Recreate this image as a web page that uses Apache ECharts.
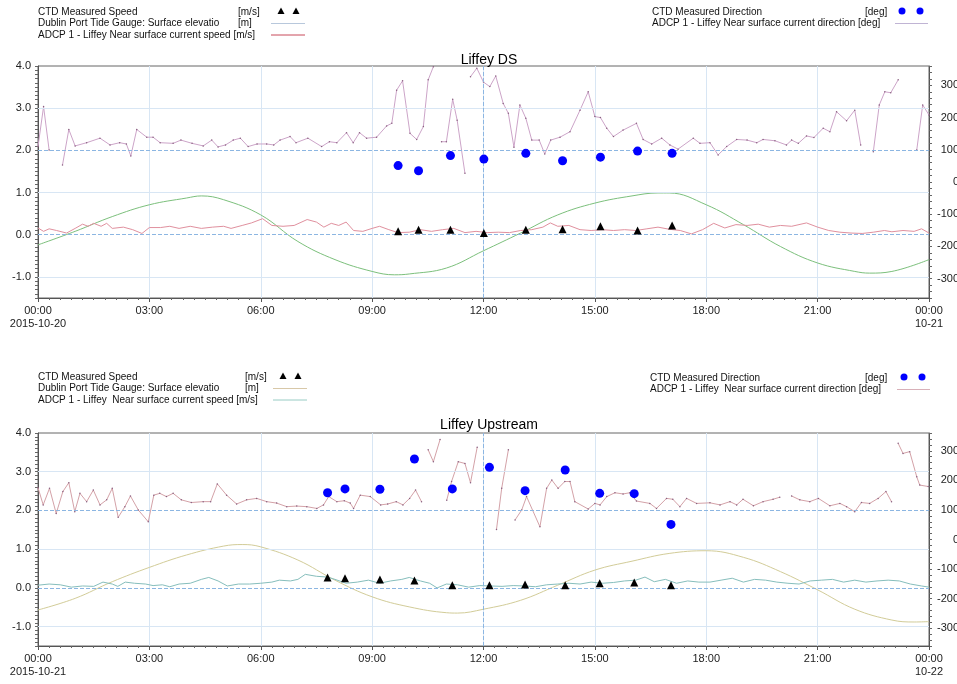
<!DOCTYPE html>
<html>
<head>
<meta charset="utf-8">
<script src="https://cdn.jsdelivr.net/npm/echarts@6/dist/echarts.min.js"></script>
<style>
html, body { margin: 0; padding: 0; background: #fff; }
#chart { width: 957px; height: 684px; }
</style>
</head>
<body>
<div id="chart"></div>
<script>
// hours after midnight

// Liffey DS, 2015-10-20
var dsTideHours = [0, 1, 2, 3, 4, 4.4, 5, 6, 7, 8, 9, 9.6, 10, 11, 12, 13, 14, 15, 16, 16.7, 17, 18, 19, 20, 21, 22, 22.4, 23, 24];
var dsTide = [-0.24, 0.08, 0.43, 0.71, 0.87, 0.92, 0.83, 0.47, -0.16, -0.59, -0.87, -0.95, -0.93, -0.79, -0.38, 0.04, 0.47, 0.75, 0.92, 0.99, 0.99, 0.71, 0.24, -0.28, -0.67, -0.87, -0.91, -0.87, -0.59];

var dsSpeedHours = [0, 0.15, 0.3, 0.5, 0.77, 1.0, 1.2, 1.35, 1.5, 1.7, 1.85, 2.0, 2.3, 2.55, 2.8, 3.0, 3.3, 3.55, 3.8, 4.1, 4.4, 4.7, 5.0, 5.2, 5.5, 5.75, 6.05, 6.3, 6.6, 6.9, 7.25, 7.5, 7.7, 7.9, 8.1, 8.3, 8.5, 8.75, 9.0, 9.2, 9.45, 9.7, 10.0, 10.3, 10.6, 10.9, 11.2, 11.5, 11.8, 12.1, 12.4, 12.7, 13.0, 13.3, 13.6, 13.8, 14.0, 14.3, 14.6, 14.9, 15.2, 15.5, 15.8, 16.1, 16.4, 16.7, 17.0, 17.3, 17.6, 17.9, 18.2, 18.5, 18.8, 19.1, 19.4, 19.7, 20.0, 20.3, 20.7, 21.0, 21.3, 21.6, 21.9, 22.2, 22.5, 22.8, 23.0, 23.3, 23.6, 23.8, 24.0];
var dsSpeed = [0.16, 0.08, 0.14, 0.10, 0.04, 0.15, 0.25, 0.20, 0.27, 0.20, 0.27, 0.15, 0.18, 0.12, 0.03, 0.17, 0.17, 0.20, 0.15, 0.20, 0.15, 0.18, 0.20, 0.15, 0.22, 0.28, 0.38, 0.22, 0.20, 0.22, 0.36, 0.30, 0.18, 0.27, 0.22, 0.30, 0.10, 0.08, 0.15, 0.20, 0.12, 0.05, 0.06, 0.12, 0.08, 0.12, 0.15, 0.05, 0.08, 0.05, 0.06, 0.05, 0.10, 0.12, 0.18, 0.28, 0.20, 0.22, 0.12, 0.10, 0.12, 0.10, 0.12, 0.10, 0.14, 0.18, 0.13, 0.10, 0.02, 0.12, 0.27, 0.16, 0.24, 0.22, 0.25, 0.18, 0.22, 0.20, 0.28, 0.18, 0.10, 0.06, 0.04, 0.03, 0.06, 0.10, 0.07, 0.10, 0.08, 0.14, 0.04];

var dsDirHours = [0, 0.15, 0.3, 0.45, 0.66, 0.83, 1.0, 1.31, 1.67, 1.94, 2.2, 2.38, 2.5, 2.66, 2.93, 3.1, 3.29, 3.64, 3.85, 4.15, 4.45, 4.68, 4.85, 5.05, 5.26, 5.45, 5.66, 5.9, 6.16, 6.35, 6.52, 6.79, 6.95, 7.27, 7.64, 7.85, 8.05, 8.31, 8.49, 8.66, 8.85, 9.12, 9.39, 9.53, 9.66, 9.82, 10.02, 10.2, 10.38, 10.51, 10.65, 10.75, 10.87, 11.0, 11.17, 11.29, 11.5, 11.58, 11.65, 11.82, 12.0, 12.17, 12.33, 12.53, 12.67, 12.82, 12.98, 13.14, 13.3, 13.5, 13.65, 13.81, 14.06, 14.33, 14.6, 14.82, 15.0, 15.15, 15.32, 15.5, 15.76, 16.12, 16.3, 16.53, 16.8, 17.02, 17.24, 17.65, 17.83, 18.1, 18.32, 18.55, 18.82, 19.1, 19.36, 19.53, 19.85, 20.16, 20.3, 20.48, 20.7, 20.9, 21.15, 21.33, 21.51, 21.78, 22.0, 22.16, 22.3, 22.5, 22.66, 22.81, 22.97, 23.17, 23.4, 23.67, 23.83, 24.0];
var dsDir = [110, 234, 99, null, 53, 163, 112, 122, 136, 115, 122, 118, 81, 163, 139, 139, 122, 120, 130, 120, 112, 130, 109, 115, 130, 136, 110, 118, 118, 115, 130, 141, 122, 136, 110, 125, 122, 153, 122, 153, 136, 139, 174, 182, 285, 314, 151, 132, 172, 317, 358, null, 125, 125, 257, 192, 27, null, 327, 353, 310, 296, 329, 244, 213, 108, 239, 198, 130, 130, 87, 130, 139, 156, 223, 280, 203, 200, 167, 141, 161, 182, 132, 118, 136, 115, 102, 136, 120, 122, 84, 110, 132, 130, 122, 132, 128, 115, 130, 120, 143, 138, 167, 156, 218, 190, 223, 115, null, 94, 239, 280, 277, 317, null, 99, 239, 208];

var dsCtdHours = [9.70, 10.25, 11.11, 12.01, 13.14, 14.13, 15.15, 16.15, 17.08];
var dsCtdSpeed = [0.08, 0.12, 0.12, 0.04, 0.12, 0.13, 0.20, 0.10, 0.22];
var dsCtdDir = [51, 35, 82, 71, 89, 66, 77, 96, 89];

// Liffey Upstream, 2015-10-21
var usTideHours = [0, 1, 2, 3, 4, 5, 5.5, 6, 7, 8, 9, 10, 11, 11.3, 12, 13, 14, 15, 16, 17, 18, 19, 20, 21, 22, 23, 23.6, 24];
var usTide = [-0.57, -0.27, 0.16, 0.53, 0.85, 1.08, 1.12, 1.06, 0.72, 0.20, -0.23, -0.49, -0.64, -0.65, -0.55, -0.32, 0.07, 0.46, 0.69, 0.89, 0.96, 0.79, 0.42, -0.05, -0.55, -0.83, -0.88, -0.87];

var usSpeedHours = [0, 0.3, 0.6, 0.9, 1.2, 1.5, 1.75, 2.0, 2.15, 2.35, 2.6, 2.9, 3.1, 3.35, 3.55, 3.8, 4.1, 4.4, 4.6, 4.85, 5.1, 5.4, 5.7, 6.0, 6.3, 6.5, 6.8, 7.0, 7.2, 7.5, 7.8, 8.0, 8.3, 8.6, 8.9, 9.2, 9.5, 9.8, 10.0, 10.3, 10.55, 10.75, 11.0, 11.3, 11.6, 11.9, 12.2, 12.5, 12.8, 13.1, 13.4, 13.7, 14.0, 14.3, 14.6, 14.9, 15.2, 15.5, 15.8, 16.1, 16.35, 16.6, 16.9, 17.2, 17.5, 17.8, 18.1, 18.4, 18.7, 19.0, 19.3, 19.6, 19.9, 20.2, 20.5, 20.8, 21.1, 21.4, 21.7, 22.0, 22.3, 22.6, 22.9, 23.2, 23.5, 23.8, 24.0];
var usSpeed = [0.07, 0.10, 0.08, 0.02, 0.05, 0.04, 0.15, 0.10, 0.04, 0.15, 0.12, 0.10, 0.06, 0.08, 0.03, 0.10, 0.12, 0.22, 0.27, 0.18, 0.05, 0.10, 0.10, 0.12, 0.15, 0.20, 0.18, 0.22, 0.35, 0.30, 0.28, 0.22, 0.12, 0.15, 0.20, 0.12, 0.18, 0.22, 0.27, 0.18, 0.12, 0.00, 0.10, 0.08, 0.02, 0.06, 0.05, 0.04, 0.06, 0.05, 0.03, 0.08, 0.10, 0.12, 0.10, 0.15, 0.12, 0.14, 0.18, 0.20, 0.28, 0.16, 0.22, 0.12, 0.18, 0.15, 0.15, 0.20, 0.25, 0.15, 0.22, 0.20, 0.15, 0.12, 0.10, 0.18, 0.20, 0.22, 0.15, 0.20, 0.15, 0.18, 0.20, 0.18, 0.10, 0.05, 0.02];

var usDirHours = [0, 0.14, 0.31, 0.49, 0.67, 0.83, 0.99, 1.13, 1.31, 1.49, 1.67, 1.85, 2.0, 2.16, 2.34, 2.49, 2.7, 2.97, 3.12, 3.28, 3.46, 3.64, 3.86, 4.13, 4.45, 4.65, 4.83, 5.08, 5.35, 5.62, 5.89, 6.16, 6.43, 6.7, 6.97, 7.24, 7.51, 7.69, 7.83, 8.05, 8.25, 8.41, 8.5, 8.68, 8.95, 9.23, 9.42, 9.65, 9.83, 10.01, 10.17, 10.33, 10.42, 10.51, 10.65, 10.83, 10.92, 11.01, 11.14, 11.32, 11.5, 11.65, 11.83, 12.1, 12.35, 12.49, 12.67, 12.76, 12.85, 13.03, 13.16, 13.52, 13.7, 13.84, 14.01, 14.19, 14.33, 14.46, 14.82, 15.0, 15.14, 15.32, 15.54, 15.76, 15.94, 16.12, 16.48, 16.66, 16.93, 17.1, 17.29, 17.47, 17.74, 18.1, 18.37, 18.64, 18.82, 18.99, 19.27, 19.53, 19.8, 19.98, 20.15, 20.3, 20.52, 20.79, 21.02, 21.33, 21.6, 21.78, 22.0, 22.18, 22.4, 22.63, 22.84, 22.99, 23.08, 23.17, 23.3, 23.48, 23.67, 23.75, 23.98];
var usDir = [175, 117, 173, 88, 162, 192, 94, 156, 128, 167, 117, 134, 173, 75, 111, 147, 100, 60, 150, 156, 145, 156, 134, 125, 128, 128, 188, 150, 120, 134, 139, 128, 123, 111, 113, 111, 105, 117, 145, 128, 131, 123, 105, 150, 145, 117, 120, 128, 117, 139, 167, 128, null, 303, 263, 338, null, 133, 196, 263, 257, 192, 312, null, 34, 173, 303, null, 66, 100, 145, 43, 173, 201, 173, 196, 196, 128, 103, 122, 117, 145, 158, 154, 158, 130, 122, 105, 139, 136, 111, 139, 122, 124, 117, 128, 117, 136, 114, 128, 136, 143, null, 147, 134, 128, 139, 114, 122, 111, 94, 125, 122, 139, 162, 128, null, 325, 291, 297, 212, 184, 179];

var usCtdHours = [7.80, 8.27, 9.21, 10.14, 11.16, 12.16, 13.12, 14.20, 15.13, 16.06, 17.05];
var usCtdSpeed = [0.27, 0.25, 0.22, 0.19, 0.07, 0.07, 0.09, 0.07, 0.12, 0.14, 0.07];
var usCtdDir = [158, 171, 170, 272, 171, 244, 165, 235, 156, 155, 51];

var FONT = 'Liberation Sans';

function pairs(xs, ys) {
  var out = [];
  for (var i = 0; i < Math.min(xs.length, ys.length); i++) out.push([xs[i], ys[i]]);
  return out;
}

function hourFormatter(startDate, endDate) {
  return function (v) {
    if (v === 0) return '00:00\n' + startDate;
    if (v === 24) return '00:00\n' + endDate;
    return (v < 10 ? '0' : '') + v + ':00';
  };
}

function timeAxis(gi, d0, d1) {
  return {
    type: 'value', gridIndex: gi, min: 0, max: 24, interval: 3,
    axisLine: { onZero: false, lineStyle: { color: '#555' } },
    axisTick: { length: 4, lineStyle: { color: '#555' } },
    minorTick: { show: true, splitNumber: 10, length: 2, lineStyle: { color: '#666' } },
    axisLabel: { color: '#222', fontSize: 11, lineHeight: 13, margin: 6, fontFamily: FONT, formatter: hourFormatter(d0, d1) },
    splitLine: { show: true, lineStyle: { color: '#d8e6f4' } }
  };
}

function leftAxis(gi) {
  return {
    type: 'value', gridIndex: gi, position: 'left', min: -1.5, max: 4, interval: 0.1,
    axisLine: { show: true, onZero: false, lineStyle: { color: '#555' } },
    axisTick: { length: 3, lineStyle: { color: '#666' } },
    splitLine: { show: false },
    axisLabel: {
      color: '#222', fontSize: 11, margin: 7, fontFamily: FONT,
      formatter: function (v) {
        var r = Math.round(v);
        return Math.abs(v - r) < 1e-6 ? r.toFixed(1) : '';
      }
    }
  };
}

function rightAxis(gi) {
  return {
    type: 'value', gridIndex: gi, position: 'right', min: -360, max: 360, interval: 20,
    axisLine: { show: true, onZero: false, lineStyle: { color: '#555' } },
    axisTick: { length: 3, lineStyle: { color: '#666' } },
    splitLine: { show: false },
    axisLabel: {
      color: '#222', fontSize: 11, margin: 30, align: 'right', fontFamily: FONT,
      formatter: function (v) { return Math.round(v) % 100 === 0 ? String(Math.round(v)) : ''; }
    }
  };
}

function gridLines() {
  var light = { color: '#d8e6f4', type: 'solid', width: 1 };
  var dash = { color: '#8cb6e2', type: 'dashed', width: 1 };
  return {
    silent: true, symbol: 'none', animation: false, label: { show: false },
    data: [
      { yAxis: -1, lineStyle: light }, { yAxis: 1, lineStyle: light }, { yAxis: 3, lineStyle: light },
      { yAxis: 0, lineStyle: dash }, { yAxis: 2, lineStyle: dash }, { xAxis: 12, lineStyle: dash }
    ]
  };
}

function panelSeries(gi, p) {
  var ax = gi, yl = gi * 2, yr = gi * 2 + 1;
  return [
    { name: 'Tide', type: 'line', xAxisIndex: ax, yAxisIndex: yl, data: pairs(p.tideHours, p.tide),
      smooth: 0.4, showSymbol: false, z: 1, lineStyle: { color: p.tideColor, width: 1 }, markLine: gridLines() },
    { name: 'ADCP speed', type: 'line', xAxisIndex: ax, yAxisIndex: yl, data: pairs(p.speedHours, p.speed),
      showSymbol: false, z: 3, lineStyle: { color: p.speedColor, width: 1 } },
    { name: 'ADCP direction', type: 'line', xAxisIndex: ax, yAxisIndex: yr, data: pairs(p.dirHours, p.dir),
      connectNulls: false, symbol: 'circle', symbolSize: 1.5, z: 3,
      itemStyle: { color: '#8a6080' }, lineStyle: { color: p.dirColor, width: 1 } },
    { name: 'CTD speed', type: 'scatter', xAxisIndex: ax, yAxisIndex: yl, data: pairs(p.ctdHours, p.ctdSpeed),
      symbol: 'triangle', symbolSize: 8, z: 5, itemStyle: { color: '#000', opacity: 1 } },
    { name: 'CTD direction', type: 'scatter', xAxisIndex: ax, yAxisIndex: yr, data: pairs(p.ctdHours, p.ctdDir),
      symbol: 'circle', symbolSize: 9, z: 5, itemStyle: { color: '#0000ff', opacity: 1 } }
  ];
}

// legend tables drawn as graphics
function txt(x, y, s) {
  return { type: 'text', x: x, y: y, style: { text: s, fill: '#111', font: '10px "' + FONT + '"', verticalAlign: 'middle', textVerticalAlign: 'middle' } };
}
function tri(x, y) {
  return { type: 'polygon', shape: { points: [[x - 3.5, y + 3], [x + 3.5, y + 3], [x, y - 3.5]] }, style: { fill: '#000' } };
}
function dot(x, y) {
  return { type: 'circle', shape: { cx: x, cy: y, r: 3.5 }, style: { fill: '#0000ff' } };
}
function seg(x1, x2, y, c) {
  return { type: 'line', shape: { x1: x1, y1: y, x2: x2, y2: y }, style: { stroke: c, lineWidth: 1 } };
}

function speedLegend(x, ux, sx, y, tideC, speedC, liffey) {
  return [
    txt(x, y, 'CTD Measured Speed'), txt(ux, y, '[m/s]'), tri(sx + 10, y - 1), tri(sx + 25, y - 1),
    txt(x, y + 11.5, 'Dublin Port Tide Gauge: Surface elevatio'), txt(ux, y + 11.5, '[m]'), seg(sx, sx + 34, y + 11.5, tideC),
    txt(x, y + 23, 'ADCP 1 - ' + liffey + ' Near surface current speed [m/s]'), seg(sx, sx + 34, y + 23, speedC)
  ];
}
function dirLegend(x, ux, sx, y, dirC, liffey) {
  return [
    txt(x, y, 'CTD Measured Direction'), txt(ux, y, '[deg]'), dot(sx + 7, y - 1), dot(sx + 25, y - 1),
    txt(x, y + 11.5, 'ADCP 1 - ' + liffey + ' Near surface current direction [deg]'), seg(sx, sx + 33, y + 11.5, dirC)
  ];
}

var ds = {
  tideHours: dsTideHours, tide: dsTide, speedHours: dsSpeedHours, speed: dsSpeed,
  dirHours: dsDirHours, dir: dsDir, ctdHours: dsCtdHours, ctdSpeed: dsCtdSpeed, ctdDir: dsCtdDir,
  tideColor: '#7cc07c', speedColor: '#e0909e', dirColor: '#cca4c8'
};
var us = {
  tideHours: usTideHours, tide: usTide, speedHours: usSpeedHours, speed: usSpeed,
  dirHours: usDirHours, dir: usDir, ctdHours: usCtdHours, ctdSpeed: usCtdSpeed, ctdDir: usCtdDir,
  tideColor: '#d2cc98', speedColor: '#86bebc', dirColor: '#d4a2a8'
};

var chart = echarts.init(document.getElementById('chart'));
var option = {
  backgroundColor: '#fff',
  animation: false,
  textStyle: { fontFamily: FONT },
  title: [
    { text: 'Liffey DS', left: 484, top: 48, textAlign: 'center', textStyle: { fontSize: 14, fontWeight: 'normal', color: '#000', fontFamily: FONT } },
    { text: 'Liffey Upstream', left: 484, top: 413, textAlign: 'center', textStyle: { fontSize: 14, fontWeight: 'normal', color: '#000', fontFamily: FONT } }
  ],
  grid: [
    { left: 38, right: 28, top: 66, height: 232, show: true, borderColor: '#666', borderWidth: 1, outerBoundsMode: 'none', containLabel: false },
    { left: 38, right: 28, top: 433, height: 213, show: true, borderColor: '#666', borderWidth: 1, outerBoundsMode: 'none', containLabel: false }
  ],
  xAxis: [timeAxis(0, '2015-10-20', '10-21'), timeAxis(1, '2015-10-21', '10-22')],
  yAxis: [leftAxis(0), rightAxis(0), leftAxis(1), rightAxis(1)],
  graphic: []
    .concat(speedLegend(38, 238, 271, 12, '#b8c8dc', '#c84a5a', 'Liffey'))
    .concat(dirLegend(652, 865, 895, 12, '#c0b4d4', 'Liffey'))
    .concat(speedLegend(38, 245, 273, 377, '#d8c8a8', '#98ccc4', 'Liffey '))
    .concat(dirLegend(650, 865, 897, 378, '#d8b0b8', 'Liffey ')),
  series: panelSeries(0, ds).concat(panelSeries(1, us))
};
chart.setOption(option);
</script>
</body>
</html>
